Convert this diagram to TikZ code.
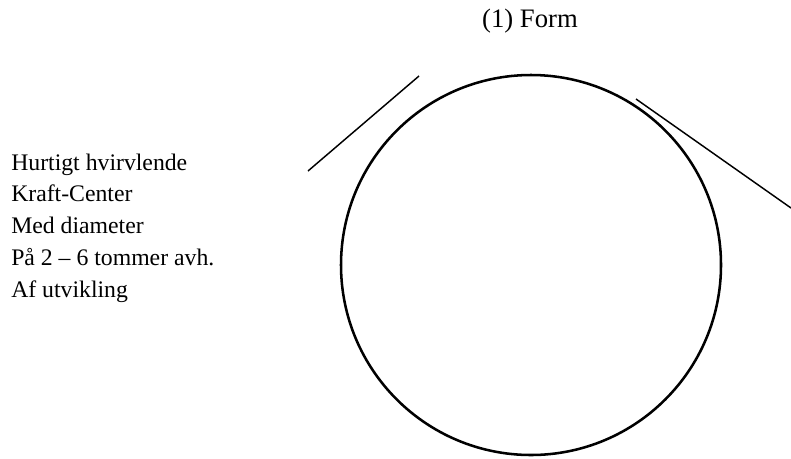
\documentclass[tikz,border=0pt]{standalone}
\usepackage{fontspec}
\setmainfont{Liberation Serif}
\usepackage{tikz}
\usetikzlibrary{positioning}

\tikzset{
  label text/.style={inner sep=0pt, font=\fontsize{17.8}{23.8}\selectfont},
  title text/.style={inner sep=0pt, font=\fontsize{20}{24}\selectfont},
  thin stroke/.style={line width=1.1pt, draw=black},
}

\begin{document}
\begin{tikzpicture}[x=0.75pt, y=-0.75pt]
        \useasboundingbox (0,0) rectangle (791,458);
        % title
        \node[title text, anchor=base] (title) at (530,27) {(1) Form};
        % the vortex
        \node[circle, draw, line width=1.9pt, minimum size=285pt, inner sep=0pt]
          (vortex) at (531,265) {};
        % description (base = last line)
        \node[label text, align=left, anchor=base west]
          (desc) at (11,297) {Hurtigt hvirvlende\\Kraft-Center\\Med diameter\\P\r{a} 2 -- 6 tommer avh.\\Af utvikling};
        % strokes beside the circle
        \coordinate (la) at (308,171);
        \coordinate (lb) at (419,76);
        \coordinate (ra) at (636,99);
        \coordinate (rb) at (791,208);
        \draw[thin stroke] (la) -- (lb);
        \draw[thin stroke] (ra) -- (rb);
      \end{tikzpicture}
\end{document}
